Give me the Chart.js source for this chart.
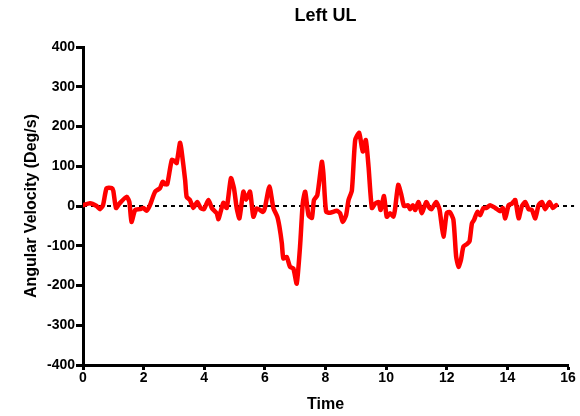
<!DOCTYPE html>
<html>
<head>
<meta charset="utf-8">
<script src="https://cdn.jsdelivr.net/npm/chart.js"></script>
<style>
  html, body { margin: 0; padding: 0; background: #fff; }
  #wrap { width: 580px; height: 416px; }
</style>
</head>
<body>
<div id="wrap"><canvas id="line-leftUL" width="580" height="416"></canvas></div>
<script>
// time (s) and angular velocity (deg/s)
var times = [0, 0.23, 0.45, 0.56, 0.66, 0.78, 0.95, 1.0, 1.09, 1.2, 1.44, 1.53, 1.6, 1.72, 1.88, 1.99, 2.1, 2.21, 2.38, 2.54, 2.63, 2.7, 2.78, 2.93, 3.04, 3.09, 3.2, 3.25, 3.37, 3.42, 3.53, 3.64, 3.77, 3.88, 3.99, 4.14, 4.25, 4.41, 4.47, 4.63, 4.74, 4.88, 4.98, 5.07, 5.16, 5.29, 5.38, 5.51, 5.62, 5.73, 5.84, 5.93, 6.0, 6.15, 6.28, 6.41, 6.48, 6.56, 6.61, 6.72, 6.83, 6.94, 7.05, 7.16, 7.25, 7.33, 7.44, 7.55, 7.62, 7.73, 7.88, 7.93, 8.02, 8.15, 8.37, 8.48, 8.57, 8.68, 8.76, 8.87, 8.98, 9.11, 9.23, 9.33, 9.42, 9.53, 9.64, 9.75, 9.82, 9.93, 10.02, 10.13, 10.24, 10.29, 10.4, 10.5, 10.59, 10.72, 10.79, 10.88, 10.96, 11.07, 11.18, 11.32, 11.43, 11.5, 11.65, 11.76, 11.89, 12.0, 12.1, 12.22, 12.31, 12.39, 12.47, 12.55, 12.66, 12.75, 12.83, 12.9, 13.01, 13.1, 13.21, 13.31, 13.43, 13.6, 13.76, 13.85, 13.93, 14.04, 14.15, 14.26, 14.37, 14.48, 14.59, 14.7, 14.81, 14.92, 15.03, 15.14, 15.25, 15.39, 15.5, 15.61];
var velocity = [2, 7, 0, -8, 2, 45, 45, 38, -5, 6, 23, 10, -40, -10, -8, -5, -12, 2, 36, 45, 61, 55, 55, 116, 112, 108, 159, 140, 65, 23, 15, -5, 10, -5, -8, 15, -5, -18, -33, 8, -5, 70, 45, -5, -31, 36, 16, 36, -27, -6, -10, -15, -5, 49, -5, -27, -52, -94, -132, -128, -153, -157, -195, -102, 7, 36, -23, -30, 15, 27, 111, 82, -14, -17, -12, -18, -40, -23, 15, 39, 166, 184, 137, 166, 99, -5, 6, 10, -10, 25, -27, -18, -27, -10, 53, 29, 0, 2, -8, 2, -10, 10, -18, 10, -5, -8, 10, -8, -77, -18, -15, -35, -127, -153, -135, -102, -96, -89, -44, -35, -15, -23, -5, -5, 2, -5, -13, -5, -31, 2, 6, 15, -31, 0, 10, -8, -10, -31, 2, 10, -8, 10, -5, 2];
var xTicks = [0, 2, 4, 6, 8, 10, 12, 14, 16];
var yTicks = [-400, -300, -200, -100, 0, 100, 200, 300, 400];
var zeroLine = [0, 16.2];

var points = [];
for (var i = 0; i < times.length; i++) {
  points.push({ x: times[i], y: velocity[i] });
}

// title drawn over the middle of the plot area, like the original
var titlePlugin = {
  id: "plotTitle",
  afterDraw: function(chart) {
    var c = chart.ctx;
    var area = chart.chartArea;
    c.save();
    c.font = "bold 18px 'Liberation Sans', Arial, sans-serif";
    c.fillStyle = "#000";
    c.textAlign = "center";
    c.textBaseline = "middle";
    c.fillText("Left UL", (area.left + area.right) / 2, 16);
    c.restore();
  }
};

var tickFont = { family: "'Liberation Sans', Arial, sans-serif", size: 14, weight: "bold" };
var titleFont = { family: "'Liberation Sans', Arial, sans-serif", size: 16, weight: "bold" };

var ctx = document.getElementById("line-leftUL");

var chart = new Chart(ctx, {
  type: "scatter",
  data: {
    datasets: [
      {
        label: "zero",
        data: zeroLine.map(function(x) { return { x: x, y: 0 }; }),
        showLine: true,
        borderColor: "#000",
        borderWidth: 2,
        borderDash: [4, 4],
        pointRadius: 0,
        clip: false,
        order: 2
      },
      {
        label: "Left UL",
        data: points,
        showLine: true,
        borderColor: "#ff0000",
        borderWidth: 4.5,
        tension: 0.2,
        pointRadius: 0,
        borderCapStyle: "round",
        borderJoinStyle: "round",
        order: 1
      }
    ]
  },
  options: {
    responsive: false,
    animation: false,
    layout: { padding: { top: 47, right: 12, left: 0, bottom: 0 } },
    plugins: {
      legend: { display: false },
      tooltip: { enabled: false }
    },
    scales: {
      x: {
        type: "linear",
        min: 0,
        max: 16,
        afterBuildTicks: function(scale) {
          scale.ticks = xTicks.map(function(v) { return { value: v }; });
        },
        afterFit: function(scale) { scale.height = 51; },
        border: { display: true, color: "#000", width: 3 },
        grid: { drawOnChartArea: false, tickLength: 5, tickWidth: 3, tickColor: "#000" },
        ticks: { color: "#000", font: tickFont, padding: 0, maxRotation: 0 },
        title: { display: true, text: "Time", color: "#000", font: titleFont, padding: { top: 4, bottom: 2 } }
      },
      y: {
        type: "linear",
        min: -400,
        max: 400,
        afterBuildTicks: function(scale) {
          scale.ticks = yTicks.map(function(v) { return { value: v }; });
        },
        afterFit: function(scale) { scale.width = 83; },
        border: { display: true, color: "#000", width: 3 },
        grid: { drawOnChartArea: false, tickLength: 7, tickWidth: 3, tickColor: "#000" },
        ticks: { color: "#000", font: tickFont, padding: 1 },
        title: { display: true, text: "Angular Velocity (Deg/s)", color: "#000", font: titleFont, padding: { top: 22, bottom: 0 } }
      }
    }
  },
  plugins: [titlePlugin]
});
</script>
</body>
</html>
